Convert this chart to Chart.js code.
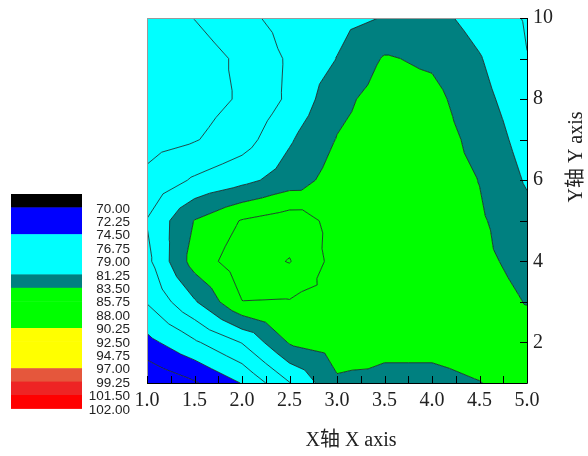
<!DOCTYPE html>
<html>
<head>
<meta charset="utf-8">
<script src="https://cdn.jsdelivr.net/npm/chart.js@4.4.1/dist/chart.umd.min.js"></script>
<style>
  html, body { margin: 0; padding: 0; background: #fff; }
</style>
</head>
<body>
<canvas id="contourChart" width="588" height="456"></canvas>
<script>
// grid positions
const xValues = [1.0, 1.5, 2.0, 2.5, 3.0, 3.5, 4.0, 4.5, 5.0];
const yValues = [1, 2, 3, 4, 5, 6, 7, 8, 9, 10];

// z values, one row per y value (bottom to top)
const zRowY1  = [70.2, 72.0, 74.6, 78.9, 83.2, 83.1, 83.0, 83.45, 84.3];
const zRowY2  = [73.8, 76.4, 79.1, 83.7, 84.5, 83.9, 84.0, 84.3, 84.6];
const zRowY3  = [76.9, 81.0, 85.7, 85.6, 85.0, 85.0, 84.8, 84.5, 83.4];
const zRowY4  = [78.4, 84.5, 87.0, 88.1, 84.9, 85.0, 84.8, 84.0, 82.8];
const zRowY5  = [79.1, 83.6, 85.9, 87.0, 85.0, 85.0, 84.5, 83.8, 82.0];
const zRowY6  = [77.3, 79.3, 80.6, 82.3, 84.5, 85.0, 84.7, 83.45, 81.0];
const zRowY7  = [75.9, 76.6, 78.0, 81.0, 83.6, 84.8, 84.6, 82.8, 80.3];
const zRowY8  = [75.3, 75.8, 77.0, 79.4, 82.8, 84.5, 84.2, 82.0, 79.8];
const zRowY9  = [75.0, 75.6, 77.2, 79.3, 81.3, 83.7, 83.1, 81.4, 79.05];
const zRowY10 = [74.8, 76.8, 78.45, 79.8, 80.6, 81.35, 82.0, 80.4, 78.8];
const zGrid = [zRowY1, zRowY2, zRowY3, zRowY4, zRowY5, zRowY6, zRowY7, zRowY8, zRowY9, zRowY10];

// contour levels (colour scale labels) and the colour of the band ending at each level
const levels = [70.00, 72.25, 74.50, 76.75, 79.00, 81.25, 83.50, 85.75, 88.00,
                90.25, 92.50, 94.75, 97.00, 99.25, 101.50, 102.00];
const bandColors = ["#000000", "#0000ff", "#0000ff", "#00ffff", "#00ffff", "#00ffff",
                    "#008080", "#00ff00", "#00ff00", "#00ff00", "#ffff00", "#ffff00",
                    "#ffff00", "#e5573c", "#ee2424", "#ff0000"];

const xTitle = "X轴 X axis";
const yTitle = "Y轴 Y axis";

const serif = "'Liberation Serif', 'Times New Roman', 'Noto Sans CJK SC', serif";

// points for the scatter dataset (only used so the scales know the grid)
const gridPoints = [];
yValues.forEach((y, j) => xValues.forEach((x, i) => gridPoints.push({ x: x, y: y, z: zGrid[j][i] })));

function buildTriangles() {
    const tris = [];
    for (let j = 0; j < yValues.length - 1; j++) {
        for (let i = 0; i < xValues.length - 1; i++) {
            const a = { x: xValues[i], y: yValues[j], z: zGrid[j][i] };
            const b = { x: xValues[i + 1], y: yValues[j], z: zGrid[j][i + 1] };
            const c = { x: xValues[i + 1], y: yValues[j + 1], z: zGrid[j + 1][i + 1] };
            const d = { x: xValues[i], y: yValues[j + 1], z: zGrid[j + 1][i] };
            const m = { x: (a.x + b.x) / 2, y: (a.y + d.y) / 2, z: (a.z + b.z + c.z + d.z) / 4 };
            tris.push([a, b, m], [b, c, m], [c, d, m], [d, a, m]);
        }
    }
    return tris;
}

function clipPoly(poly, level, keepAbove) {
    const out = [];
    for (let i = 0; i < poly.length; i++) {
        const a = poly[i], b = poly[(i + 1) % poly.length];
        const ina = keepAbove ? a.z >= level : a.z <= level;
        const inb = keepAbove ? b.z >= level : b.z <= level;
        if (ina) out.push(a);
        if (ina !== inb) {
            const t = (level - a.z) / (b.z - a.z);
            out.push({ x: a.x + t * (b.x - a.x), y: a.y + t * (b.y - a.y), z: level });
        }
    }
    return out;
}

const contourPlugin = {
    id: "contour",
    beforeDatasetsDraw(chart) {
        const ctx = chart.ctx;
        const xs = chart.scales.x, ys = chart.scales.y;
        const area = chart.chartArea;
        const tris = buildTriangles();
        ctx.save();
        ctx.beginPath();
        ctx.rect(area.left, area.top, area.right - area.left, area.bottom - area.top);
        ctx.clip();

        // filled bands
        for (let k = 0; k < bandColors.length; k++) {
            const lo = k === 0 ? -Infinity : levels[k - 1];
            const hi = k === bandColors.length - 1 ? Infinity : levels[k];
            ctx.beginPath();
            tris.forEach(t => {
                let p = t;
                if (lo > -Infinity) p = clipPoly(p, lo, true);
                if (p.length && hi < Infinity) p = clipPoly(p, hi, false);
                if (p.length < 3) return;
                ctx.moveTo(xs.getPixelForValue(p[0].x), ys.getPixelForValue(p[0].y));
                for (let n = 1; n < p.length; n++) {
                    ctx.lineTo(xs.getPixelForValue(p[n].x), ys.getPixelForValue(p[n].y));
                }
                ctx.closePath();
            });
            ctx.fillStyle = bandColors[k];
            ctx.fill();
        }

        // contour lines
        ctx.strokeStyle = "#102020";
        ctx.lineWidth = 0.8;
        levels.forEach(L => {
            ctx.beginPath();
            tris.forEach(t => {
                const pts = [];
                for (let e = 0; e < 3; e++) {
                    const a = t[e], b = t[(e + 1) % 3];
                    if ((a.z >= L) !== (b.z >= L)) {
                        const f = (L - a.z) / (b.z - a.z);
                        pts.push([a.x + f * (b.x - a.x), a.y + f * (b.y - a.y)]);
                    }
                }
                if (pts.length === 2) {
                    ctx.moveTo(xs.getPixelForValue(pts[0][0]), ys.getPixelForValue(pts[0][1]));
                    ctx.lineTo(xs.getPixelForValue(pts[1][0]), ys.getPixelForValue(pts[1][1]));
                }
            });
            ctx.stroke();
        });
        ctx.restore();
    },
    afterDraw(chart) {
        const ctx = chart.ctx;
        const xs = chart.scales.x, ys = chart.scales.y;
        const area = chart.chartArea;
        ctx.save();

        // frame: light top/left, black axes at bottom/right
        ctx.lineWidth = 1;
        ctx.strokeStyle = "#9a9a9a";
        ctx.beginPath();
        ctx.moveTo(area.left + 0.5, area.bottom);
        ctx.lineTo(area.left + 0.5, area.top + 0.5);
        ctx.lineTo(area.right, area.top + 0.5);
        ctx.stroke();
        ctx.strokeStyle = "#000";
        ctx.beginPath();
        ctx.moveTo(area.left, area.bottom + 0.5);
        ctx.lineTo(area.right + 0.5, area.bottom + 0.5);
        ctx.lineTo(area.right + 0.5, area.top);
        ctx.stroke();

        // inward ticks
        ctx.beginPath();
        for (let v = 1; v <= 5.001; v += 0.25) {
            const px = Math.round(xs.getPixelForValue(v)) + 0.5;
            ctx.moveTo(px, area.bottom);
            ctx.lineTo(px, area.bottom - 7);
        }
        for (let v = 1; v <= 10; v++) {
            const py = Math.round(ys.getPixelForValue(v)) + 0.5;
            ctx.moveTo(area.right, py);
            ctx.lineTo(area.right - 7, py);
        }
        ctx.stroke();

        // axis titles
        ctx.fillStyle = "#222";
        ctx.font = "20px " + serif;
        ctx.textAlign = "center";
        ctx.textBaseline = "middle";
        ctx.fillText(xTitle, 351, 441);
        ctx.translate(577, 157);
        ctx.rotate(-Math.PI / 2);
        ctx.fillText(yTitle, 0, 0);
        ctx.setTransform(1, 0, 0, 1, 0, 0);

        // colour scale
        const boxTop = 194, boxH = 13.4, boxL = 11, boxW = 71;
        bandColors.forEach((c, i) => {
            ctx.fillStyle = c;
            ctx.fillRect(boxL, boxTop + i * boxH, boxW, boxH + 0.5);
        });
        ctx.fillStyle = "#222";
        ctx.font = "13.5px 'Liberation Sans', Arial, sans-serif";
        ctx.textAlign = "right";
        ctx.textBaseline = "middle";
        levels.forEach((L, i) => {
            ctx.fillText(L.toFixed(2), 130, boxTop + (i + 1) * boxH + 1.5);
        });
        ctx.restore();
    }
};

const ctx1 = document.getElementById("contourChart").getContext("2d");
new Chart(ctx1, {
    type: "scatter",
    data: { datasets: [{ data: gridPoints, pointRadius: 0, pointHoverRadius: 0 }] },
    options: {
        responsive: false,
        animation: false,
        layout: { padding: { left: 147, top: 17, right: 0, bottom: 0 } },
        plugins: { legend: { display: false }, tooltip: { enabled: false } },
        scales: {
            x: {
                type: "linear", position: "bottom", min: 1, max: 5,
                grid: { display: false, drawTicks: false }, border: { display: false },
                ticks: {
                    stepSize: 0.5, padding: 6, color: "#222", maxRotation: 0, autoSkip: false,
                    font: { family: serif, size: 20 },
                    callback: v => Number(v).toFixed(1)
                },
                afterFit: s => { s.height = 73; }
            },
            y: {
                type: "linear", position: "right", min: 1, max: 10,
                grid: { display: false, drawTicks: false }, border: { display: false },
                ticks: {
                    stepSize: 2, includeBounds: false, padding: 6, color: "#222",
                    font: { family: serif, size: 20 },
                    callback: v => String(v)
                },
                afterFit: s => { s.width = 61; }
            }
        }
    },
    plugins: [contourPlugin]
});
</script>
</body>
</html>
